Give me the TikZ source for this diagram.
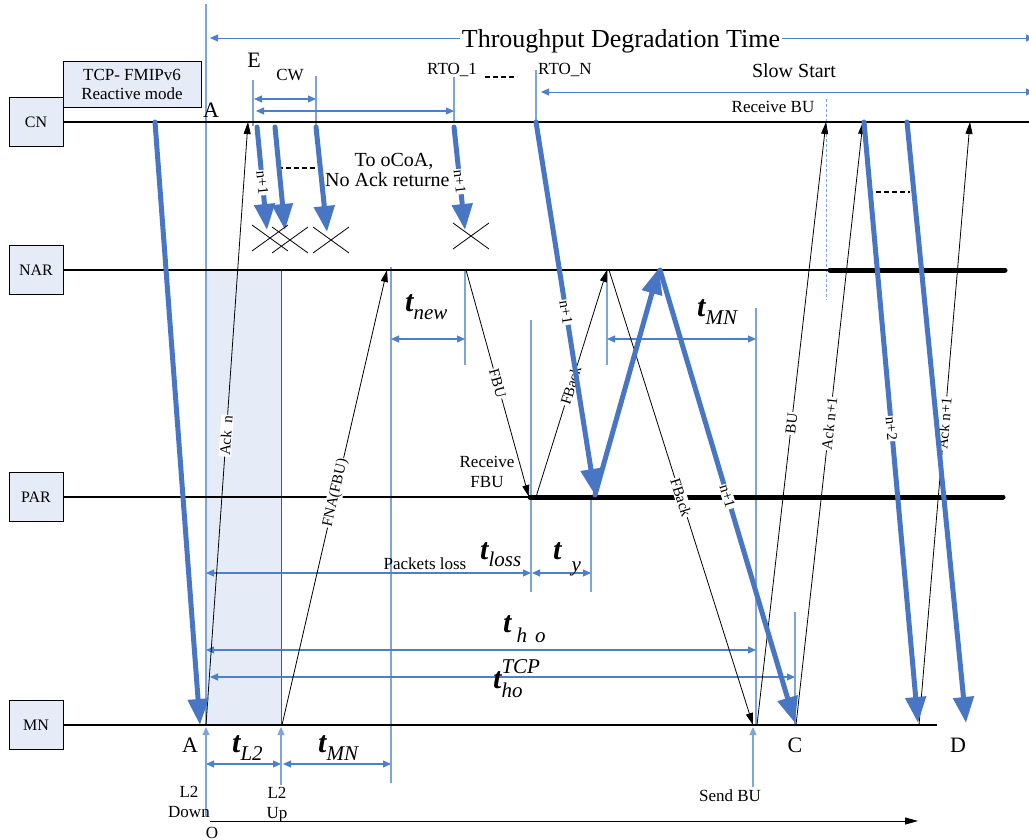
\documentclass[tikz,border=0pt]{standalone}
\usepackage{fontspec}
\setmainfont{Liberation Serif}
\usetikzlibrary{arrows.meta}
\definecolor{boxfill}{RGB}{230,236,247}
\definecolor{pktblue}{RGB}{72,118,196}
\definecolor{measblue}{RGB}{78,128,200}
\definecolor{tickblue}{RGB}{125,165,220}
\newcommand{\tbig}{{\fontsize{30}{30}\selectfont\bfseries\itshape t}}
\newcommand{\tsub}[2][-8pt]{\tbig\raisebox{#1}{\fontsize{21}{21}\selectfont\itshape #2}}

\begin{document}
\begin{tikzpicture}[x=1pt,y=-1pt,
  ent/.style={draw,fill=boxfill,minimum width=54pt,minimum height=49pt,inner sep=0pt,font=\fontsize{16}{18}\selectfont},
  life/.style={line width=1.2pt},
  busy/.style={line width=5pt,line cap=round},
  pkt/.style={draw=pktblue,line width=5pt,line cap=round,-{Triangle[length=26pt,width=20pt]}},
  msg/.style={line width=0.8pt,-{Triangle[length=12pt,width=7pt]}},
  tag/.style={sloped,fill=white,inner sep=1pt,font=\fontsize{15}{15}\selectfont},
  guide/.style={draw=tickblue,line width=1.1pt},
  interval/.style={draw=measblue,line width=1.1pt,{Triangle[length=8pt,width=7pt]}-{Triangle[length=8pt,width=7pt]}},
  upmark/.style={draw=tickblue,line width=1.1pt,-{Triangle[length=8pt,width=7pt]}},
  txt/.style={font=\fontsize{17}{20}\selectfont,inner sep=0pt,align=center},
  letter/.style={font=\fontsize{22}{22}\selectfont,inner sep=0pt,anchor=base},
  dashline/.style={line width=1.5pt,dash pattern=on 5pt off 3pt}
]
\useasboundingbox (0,0) rectangle (1029,840);

% handover gap at the MN
\fill[boxfill] (206,270) rectangle (281,725);
\draw[black!65] (206,270) rectangle (281,725);

% time marks
\draw[guide] (206,4) -- (206,725);
\draw[guide] (253,80) -- (253,126);
\draw[guide] (316,76) -- (316,128);
\draw[guide] (454,77) -- (454,122);
\draw[guide] (536,70) -- (536,122);
\draw[guide] (391,267) -- (391,783);
\draw[guide] (465,270) -- (465,365);
\draw[guide] (607,270) -- (607,365);
\draw[guide] (756,308) -- (756,725);
\draw[guide] (531,320) -- (531,592);
\draw[guide] (591,497) -- (591,592);
\draw[guide] (795,612) -- (795,725);
\draw[guide,line width=0.8pt,densely dashed] (826,99) -- (826,300);

% entities and lifelines
\node[ent] (cn)  at (36,122) {CN};
\node[ent] (nar) at (36,270) {NAR};
\node[ent] (par) at (36,497) {PAR};
\node[ent] (mn)  at (36,725) {MN};
\node[ent,minimum width=138pt,minimum height=46pt,align=center,font=\fontsize{17}{19}\selectfont] (mode) at (132,84) {TCP- FMIPv6\\Reactive mode};

\coordinate (cnend)   at (1029,122);
\coordinate (narbusy) at (830,270);
\coordinate (narend)  at (1005,270);
\coordinate (parbusy) at (530,497);
\coordinate (parend)  at (1003,497);
\coordinate (mnend)   at (937,725);

\draw[life] (cn.east) -- (cnend);
\draw[life] (nar.east) -- (narend);
\draw[life] (par.east) -- (parbusy);
\draw[life] (mn.east) -- (mnend);
\draw[busy] (narbusy) -- (narend);
\draw[busy] (parbusy) -- (parend);

% intervals
\draw[interval,line width=0.9pt] (210,38) -- (1034,38);
\draw[interval,line width=0.9pt] (541,92) -- (1034,92);
\draw[interval] (254,99) -- (316,99);
\draw[interval] (256,111) -- (454,111);
\draw[interval] (391,339) -- (465,339);
\draw[interval] (607,339) -- (756,339);
\draw[interval] (206,573) -- (531,573);
\draw[interval] (532,573) -- (591,573);
\draw[interval] (206,650) -- (756,650);
\draw[interval] (210,677) -- (795,677);
\draw[interval] (206,764) -- (281,764);
\draw[interval] (283,764) -- (391,764);
\draw[upmark] (206,817) -- (206,727);
\draw[upmark] (281,785) -- (281,727);
\draw[upmark] (753,787) -- (753,727);

% time axis
\draw[line width=0.8pt,-{Triangle[length=13pt,width=7pt]}] (210,821) -- (918,821);

% signalling
\coordinate (ackn0) at (206,725); \coordinate (ackn1) at (248,122);
\coordinate (fna0)  at (282,725); \coordinate (fna1)  at (387,270);
\coordinate (fbu0)  at (466,270); \coordinate (fbu1)  at (529,497);
\coordinate (fbk0)  at (536,497); \coordinate (fbk1)  at (607,270);
\coordinate (fbk2)  at (609,270); \coordinate (fbk3)  at (753,725);
\coordinate (bu0)   at (757,725); \coordinate (bu1)   at (826,122);
\coordinate (acka0) at (796,725); \coordinate (acka1) at (863,122);
\coordinate (ackb0) at (919,725); \coordinate (ackb1) at (970,122);

\draw[msg] (ackn0) -- node[tag,pos=.48] {Ack\ \ n} (ackn1);
\draw[msg] (fna0) -- node[tag,pos=.51] {FNA(FBU)} (fna1);
\draw[msg] (fbu0) -- node[tag,pos=.5] {FBU} (fbu1);
\draw[msg] (fbk0) -- node[tag,pos=.49] {FBack} (fbk1);
\draw[msg] (fbk2) -- node[tag,pos=.5] {FBack} (fbk3);
\draw[msg] (bu0) -- node[tag,pos=.5] {BU} (bu1);
\draw[msg] (acka0) -- node[tag,pos=.5] {Ack n+1} (acka1);
\draw[msg] (ackb0) -- node[tag,pos=.5] {Ack n+1} (ackb1);

\node[anchor=base,font=\fontsize{20}{20}\selectfont,inner sep=0pt] (oc) at (394,167) {To oCoA,};
\node[anchor=base west,font=\fontsize{20}{20}\selectfont,inner sep=0pt] (na) at (325,187) {No Ack returne};
\draw[dashline] (278,168) -- (322,168);
\draw[dashline] (868,192) -- (910,192);
\draw[dashline] (485,77) -- (517,77);

% data packets
\coordinate (pk0) at (155,122); \coordinate (pk1) at (200,725);
\coordinate (pa0) at (257,127); \coordinate (pa1) at (267,230);
\coordinate (pb0) at (275,127); \coordinate (pb1) at (285,230);
\coordinate (pc0) at (316,127); \coordinate (pc1) at (327,232);
\coordinate (pd0) at (454,127); \coordinate (pd1) at (465,230);
\coordinate (pe0) at (536,122); \coordinate (pe1) at (595,495);
\coordinate (pf1) at (659,268);
\coordinate (pg0) at (660,270); \coordinate (pg1) at (795,723);
\coordinate (ph0) at (864,122); \coordinate (ph1) at (918,723);
\coordinate (pi0) at (907,122); \coordinate (pi1) at (966,723);

\draw[pkt] (pk0) -- (pk1);
\draw[pkt] (pa0) -- node[tag,pos=.54] {n+1} (pa1);
\draw[pkt] (pb0) -- (pb1);
\draw[pkt] (pc0) -- (pc1);
\draw[pkt] (pd0) -- node[tag,pos=.53] {n+1} (pd1);
\draw[pkt] (pe0) -- node[tag,pos=.51] {n+1} (pe1);
\draw[pkt] (pe1) -- (pf1);
\draw[pkt] (pg0) -- node[tag,pos=.5] {n+1} (pg1);
\draw[pkt] (ph0) -- node[tag,pos=.51] {n+2} (ph1);
\draw[pkt] (pi0) -- (pi1);

% lost packets
\coordinate (x1) at (270,238);
\coordinate (x2) at (290,240);
\coordinate (x3) at (331,240);
\coordinate (x4) at (471,236);
\foreach \c in {x1,x2,x3,x4}
  \draw[line width=0.8pt] (\c) +(-18,-13) -- +(18,13) +(-18,13) -- +(18,-13);

% texts
\node[fill=white,inner sep=2pt,anchor=base,font=\fontsize{26}{26}\selectfont] (tdt) at (621,48) {Throughput Degradation Time};
\node[anchor=base,font=\fontsize{20}{20}\selectfont,inner sep=0pt] (ss) at (794,78) {Slow Start};
\node[anchor=base,txt] (rbu) at (773,113) {Receive BU};
\node[anchor=base west,txt] (rto1) at (427,75) {RTO\_1};
\node[anchor=base west,txt] (rton) at (538,75) {RTO\_N};
\node[anchor=base,txt] (cw) at (290,81) {CW};
\node[letter] (le) at (254,68) {E};
\node[letter] (la) at (211,118) {A};
\node[letter] (lb) at (190,752) {A};
\node[letter] (lc) at (795,752) {C};
\node[letter] (ld) at (958,752) {D};
\node[txt] (rfbu) at (487,472) {Receive\\FBU};
\node[anchor=base,txt] (ploss) at (425,569) {Packets loss};
\node[txt] (l2d) at (189,802) {L2\\Down};
\node[txt] (l2u) at (277,805) {L2\\Up};
\node[anchor=base,txt] (orig) at (212,838) {O};
\node[anchor=base,txt] (sbu) at (730,801) {Send BU};

% delays
\node[anchor=base west,inner sep=0pt] (tnew) at (405,311) {\tsub{new}};
\node[anchor=base west,inner sep=0pt] (tmn) at (697,316) {\tsub{MN}};
\node[anchor=base west,inner sep=0pt] (tloss) at (480,559) {\tsub[-7pt]{loss}};
\node[anchor=base west,inner sep=0pt] (ty) at (553,559) {\tsub[-12pt]{\hspace{10pt}y}};
\node[anchor=base west,inner sep=0pt] (tho) at (503,632) {\tsub[-10pt]{\hspace{5pt}h\hspace{8pt}o}};
\node[anchor=base west,inner sep=0pt] (ttcp) at (493,688) {\tbig\raisebox{15pt}{\rlap{\fontsize{21}{21}\selectfont\itshape TCP}}\raisebox{-9pt}{\fontsize{21}{21}\selectfont\itshape ho}};
\node[anchor=base west,inner sep=0pt] (tl2) at (232,752) {\tsub{L2}};
\node[anchor=base west,inner sep=0pt] (tmn2) at (318,752) {\tsub{MN}};
\end{tikzpicture}
\end{document}
